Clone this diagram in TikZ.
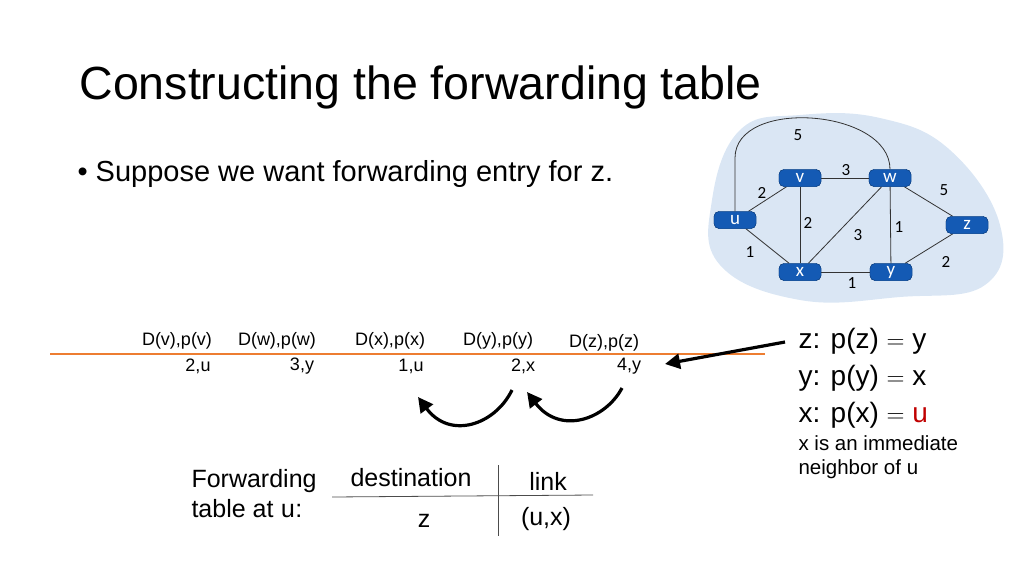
\documentclass[tikz,border=0pt]{standalone}
\usepackage{fontspec}
\setmainfont{Liberation Sans}
\setmonofont{Liberation Mono}
\newfontfamily\labelfont{Carlito}
\usetikzlibrary{positioning,arrows.meta}
\definecolor{routerblue}{RGB}{20,90,180}
\definecolor{cloudblue}{RGB}{218,230,244}
\definecolor{tableorange}{RGB}{237,125,49}
\definecolor{pred}{RGB}{192,0,0}
\tikzset{
  router/.style={draw=routerblue!70!black, fill=routerblue, rounded corners=5pt,
    minimum width=42pt, minimum height=17pt, inner sep=0pt,
    text=white, font=\labelfont\fontsize{19}{19}\selectfont},
  cost/.style={font=\labelfont\fontsize{17}{17}\selectfont},
  link/.style={draw=black!80, line width=0.8pt},
  entry/.style={font=\fontsize{18}{20}\selectfont},
  bigarrow/.style={-{Triangle[width=15pt,length=15pt]}, line width=3.2pt}
}
\begin{document}
\begin{tikzpicture}[x=1pt,y=-1pt]
  \useasboundingbox (0,0) rectangle (1024,576);

  \node[anchor=west, font=\fontsize{46.5}{50}\selectfont] (title) at (76,87) {Constructing the forwarding table};
  \node[anchor=west, font=\fontsize{29}{32}\selectfont] (bullet) at (74,174) {\textbullet\ Suppose we want forwarding entry for z.};

  % network
  \fill[cloudblue] plot[smooth cycle, tension=0.7] coordinates
    {(712,200) (740,130) (800,115) (880,118) (950,150) (1000,225) (985,285) (900,297) (800,300) (720,265)};

  \node[router] (u) at (735,220) {u};
  \node[router] (v) at (800,178) {v};
  \node[router] (w) at (890,178) {w};
  \node[router] (z) at (967,225) {z};
  \node[router] (x) at (800,272) {x};
  \node[router] (y) at (891,272) {y};

  \draw[link] (u.north) -- (u.north |- 0,158) to[out=90,in=90,looseness=1] (w.north);
  \draw[link] (u) -- (v);
  \draw[link] (u) -- (x);
  \draw[link] (v) -- (w);
  \draw[link] (v) -- (x);
  \draw[link] (w) -- (x);
  \draw[link] (w) -- (y);
  \draw[link] (w) -- (z);
  \draw[link] (x) -- (y);
  \draw[link] (y) -- (z);
  \node[router] at (u) {u};
  \node[router] at (v) {v};
  \node[router] at (w) {w};
  \node[router] at (z) {z};
  \node[router] at (x) {x};
  \node[router] at (y) {y};

  \node[cost] (cuw) at (798,135) {5};
  \node[cost] (cvw) at (846,170) {3};
  \node[cost] (cuv) at (762,193) {2};
  \node[cost] (cwz) at (944,190) {5};
  \node[cost] (cvx) at (808,223) {2};
  \node[cost] (cwy) at (899,227) {1};
  \node[cost] (cwx) at (858,235) {3};
  \node[cost] (cux) at (750,252) {1};
  \node[cost] (cyz) at (946,262) {2};
  \node[cost] (cxy) at (852,283) {1};

  % table row
  \coordinate (rowL) at (50,354);
  \coordinate (rowR) at (765,354);
  \draw[tableorange, line width=1.5pt] (rowL) -- (rowR);
  \foreach \n/\hx/\hy/\vx/\val in {v/177/341/198/2{,}u, w/277/341/302/3{,}y, x/390/341/411/1{,}u, y/498/341/523/2{,}x, z/604/343/629/4{,}y} {
    \node[entry] (h\n) at (\hx,\hy) {D(\n),p(\n)};
    \node[entry] (e\n) at (\vx,366) {\val};
  }

  % arrows
  \coordinate (bigS) at (785,342);
  \coordinate (bigE) at (665,364);
  \draw[bigarrow] (bigS) -- (bigE);
  \coordinate (c1s) at (512,390);
  \coordinate (c1e) at (418,397);
  \draw[bigarrow] (c1s) .. controls (495,425) and (450,440) .. (c1e);
  \coordinate (c2s) at (622,388);
  \coordinate (c2e) at (527,392);
  \draw[bigarrow] (c2s) .. controls (605,420) and (560,435) .. (c2e);

  % explanation
  \node[anchor=north west, align=left, font=\fontsize{28}{37}\selectfont] (expl) at (795,325)
    {z: p(z) $=$ y\\ y: p(y) $=$ x\\ x: p(x) $=$ \textcolor{pred}{u}};
  \node[align=left, font=\fontsize{20.5}{24}\selectfont] (note) [below=0pt of expl.south west, anchor=north west]
    {x is an immediate\\ neighbor of u};

  % forwarding table
  \node[anchor=north west, align=left, font=\fontsize{25}{30}\selectfont] (fwd) at (188,466)
    {Forwarding\\ table at \texttt{u}:};
  \node[font=\fontsize{25}{28}\selectfont] (dest) at (411,478) {destination};
  \node[font=\fontsize{25}{28}\selectfont] (lnk) at (548,481) {link};
  \node[font=\fontsize{25}{28}\selectfont] (dz) at (424,521) {z};
  \node[font=\fontsize{25}{28}\selectfont] (lux) at (546,519) {(u,x)};
  \coordinate (hl) at (332,497);
  \coordinate (hr) at (593,495);
  \coordinate (vt) at (498,465);
  \coordinate (vb) at (498,536);
  \draw[black!70, line width=0.8pt] (hl) -- (hr);
  \draw[black!70, line width=0.8pt] (vt) -- (vb);
\end{tikzpicture}
\end{document}
